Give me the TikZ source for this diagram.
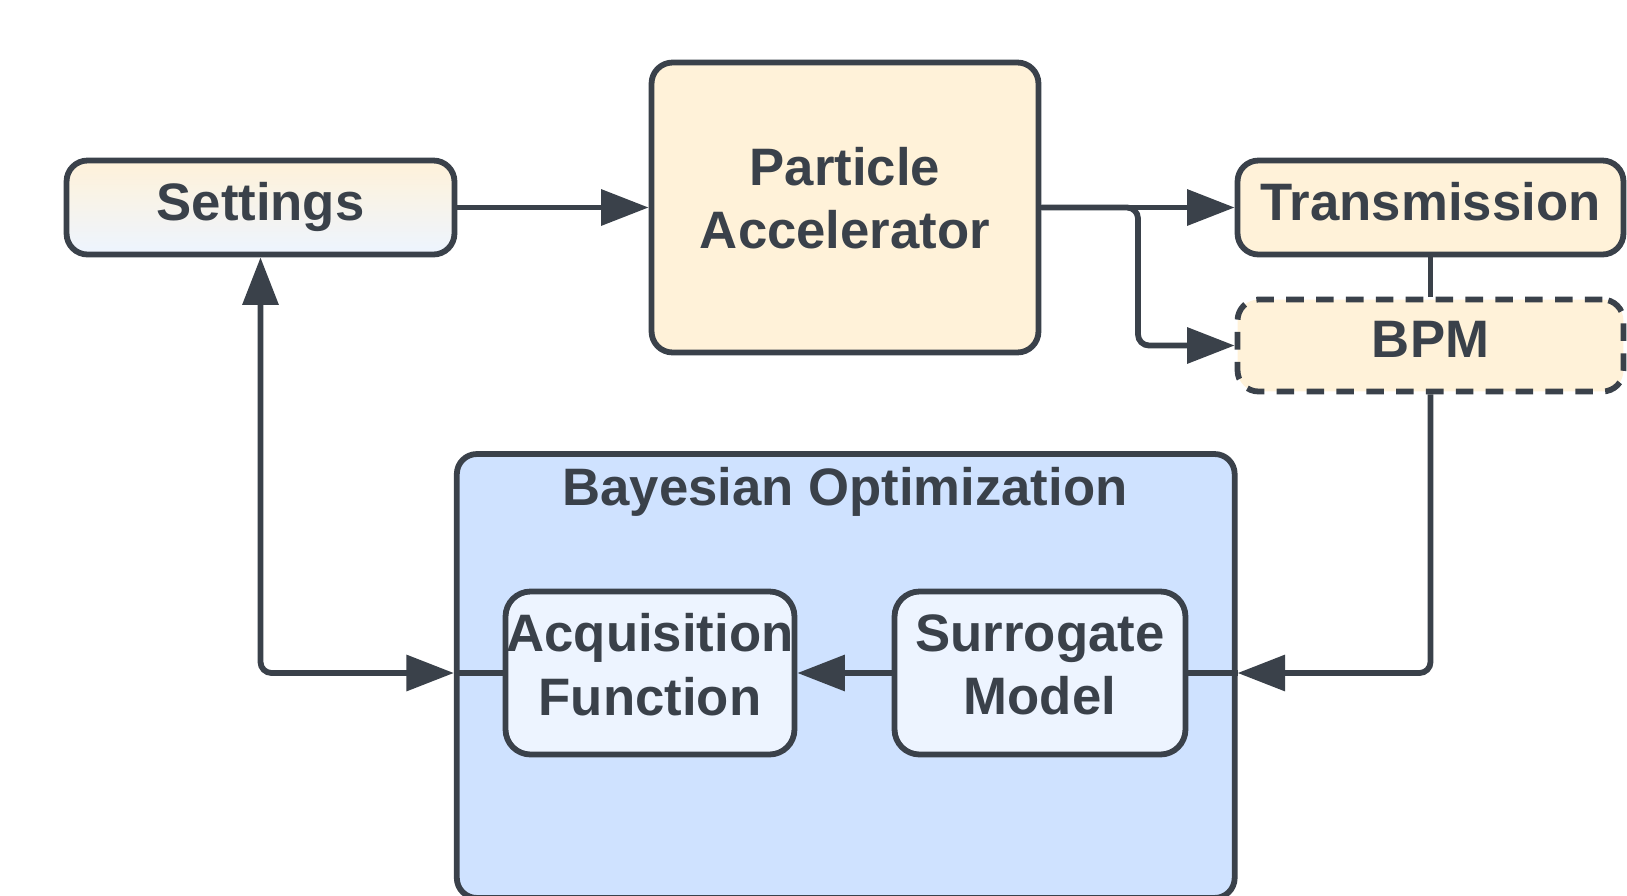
\documentclass[tikz,border=0pt]{standalone}
\usepackage{fontspec}
\setmainfont{Liberation Sans}
\usetikzlibrary{arrows.meta}
\definecolor{edge}{HTML}{3A414A}
\definecolor{cream}{HTML}{FFF2D9}
\definecolor{boblue}{HTML}{CFE2FF}
\definecolor{paleblue}{HTML}{EDF4FF}
\begin{document}
\begin{tikzpicture}[x=0.02cm, y=-0.02cm,
    box/.style={draw=edge, line width=3.3pt, rounded corners=0.42cm, inner sep=0pt,
        align=center, text=edge, font=\fontsize{30}{36}\selectfont\bfseries},
    oneline/.style={text depth=0.26cm},
    conn/.style={draw=edge, line width=3.3pt, rounded corners=0.22cm},
    tip/.style={-{Triangle[length=27pt, width=20pt]}}]
    \useasboundingbox (0,0) rectangle (1627,896);

    % Bayesian Optimization (container, bottom)
    \node[box, fill=boblue, rounded corners=0.4cm, minimum width=15.56cm, minimum height=8.88cm]
        (BO) at (845.75,676) {};
    \node[text=edge, font=\fontsize{30}{36}\selectfont\bfseries] (BOtitle) at (845,492) {Bayesian Optimization};

    % Settings (top left)
    \node[box, oneline, top color=cream, bottom color=paleblue, minimum width=7.76cm, minimum height=1.88cm]
        (Settings) at (260.5,207.5) {Settings};

    % Particle Accelerator (top middle)
    \node[box, fill=cream, minimum width=7.74cm, minimum height=5.8cm]
        (PA) at (845,207.5) {Particle\\Accelerator\\[-0.89cm]};

    % Transmission and BPM (top right)
    \node[box, oneline, fill=cream, minimum width=7.72cm, minimum height=1.88cm]
        (Trans) at (1430.5,207.5) {Transmission};
    \node[box, oneline, fill=cream, dash pattern=on 10pt off 7pt, minimum width=7.72cm, minimum height=1.84cm]
        (BPM) at (1430.5,345.5) {BPM};

    % Acquisition Function and Surrogate Model (inside)
    \node[box, fill=paleblue, rounded corners=0.5cm, minimum width=5.78cm, minimum height=3.26cm]
        (AF) at (650,673) {Acquisition\\Function\\[-0.92cm]};
    \node[box, fill=paleblue, rounded corners=0.5cm, minimum width=5.82cm, minimum height=3.26cm]
        (SM) at (1040,673) {Surrogate\\Model\\[-0.92cm]};

    % connectors
    \coordinate (branch) at (1138,207.5);
    \draw[conn, tip] (Settings.east) -- (PA.west);
    \draw[conn, tip] (PA.east) -- (Trans.west);
    \draw[conn, tip] (PA.east) -- (branch) |- (BPM.west);
    \draw[conn] (Trans.south) -- (BPM.north);
    \draw[conn, tip] (BPM.south) |- (BO.east |- SM.east);
    \draw[conn] (BO.east |- SM.east) -- (SM.east);
    \draw[conn, tip] (SM.west) -- (AF.east);
    \draw[conn, {Triangle[length=27pt, width=20pt]}-{Triangle[length=27pt, width=20pt]}]
        (Settings.south) |- (BO.west |- AF.west);
    \draw[conn] (BO.west |- AF.west) -- (AF.west);
\end{tikzpicture}
\end{document}
